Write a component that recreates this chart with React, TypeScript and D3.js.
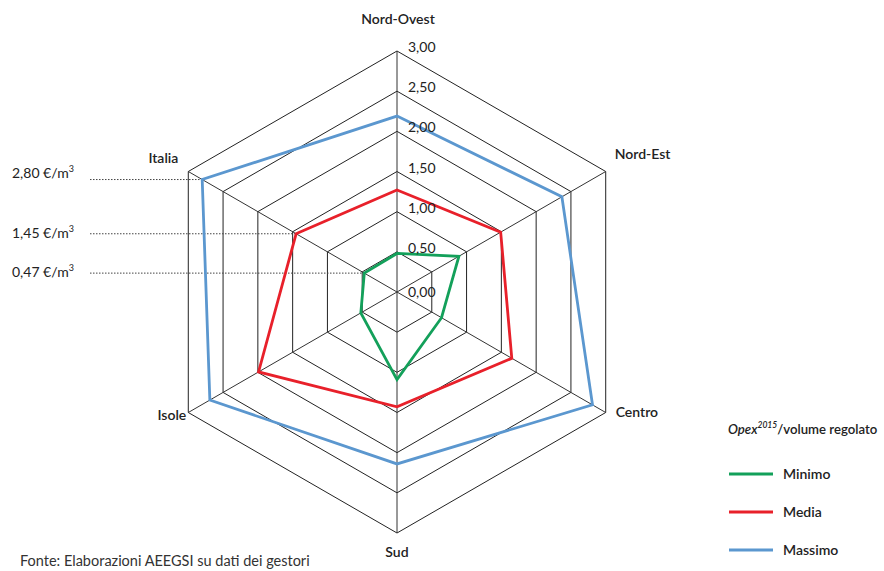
import React from "react";
import * as d3 from "d3";

const axes = ["Nord-Ovest", "Nord-Est", "Centro", "Sud", "Isole", "Italia"];
const minimo = [0.48, 0.89, 0.64, 1.09, 0.52, 0.47];
const media = [1.27, 1.49, 1.65, 1.43, 1.99, 1.45];
const massimo = [2.19, 2.37, 2.81, 2.14, 2.69, 2.8];
const ticks = [0, 0.5, 1, 1.5, 2, 2.5, 3];
const tickLabels = ["0,00", "0,50", "1,00", "1,50", "2,00", "2,50", "3,00"];
const refValues = [2.8, 1.45, 0.47];
const refLabels = ["2,80 €/m", "1,45 €/m", "0,47 €/m"];
const seriesNames = ["Minimo", "Media", "Massimo"];
const seriesColors = ["#13a05a", "#e8202a", "#5b97cf"];

const W = 884, H = 571;
const cx = 397, cy = 292, R = 241;
const FONT = "Lato, 'Open Sans', sans-serif";

export default function App() {
  const r = d3.scaleLinear().domain([0, 3]).range([0, R]);
  const n = axes.length;
  const ang = (i: number) => (i * 2 * Math.PI) / n;
  const pt = (i: number, v: number): [number, number] => [
    cx + r(v) * Math.sin(ang(i)),
    cy - r(v) * Math.cos(ang(i)),
  ];
  const radial = d3
    .lineRadial<number>()
    .angle((_d, i) => ang(i))
    .radius((d) => r(d))
    .curve(d3.curveLinearClosed);

  const series = [massimo, media, minimo];
  const seriesCol = [seriesColors[2], seriesColors[1], seriesColors[0]];

  const catPos: { anchor: "start" | "middle" | "end"; dx: number; dy: number }[] = [
    { anchor: "middle", dx: 1, dy: -27 },
    { anchor: "start", dx: 9, dy: -13 },
    { anchor: "start", dx: 10, dy: 4 },
    { anchor: "middle", dx: 0, dy: 24 },
    { anchor: "end", dx: -2, dy: 7 },
    { anchor: "end", dx: -10, dy: -9 },
  ];
  const refDy = [-2, 4, 4];

  return (
    <svg
      width={W}
      height={H}
      style={{ position: "absolute", left: 0, top: 0, background: "#fff" }}
      fontFamily={FONT}
    >
      <g transform={`translate(${cx},${cy})`}>
        {ticks.slice(1).map((t) => (
          <path
            key={t}
            d={radial(axes.map(() => t)) || ""}
            fill="none"
            stroke="#222"
            strokeWidth={1}
          />
        ))}
      </g>
      {axes.map((a, i) => {
        const [x, y] = pt(i, 3);
        return <line key={a} x1={cx} y1={cy} x2={x} y2={y} stroke="#333" strokeWidth={1} />;
      })}
      {refValues.map((v, k) => {
        const [x, y] = pt(5, v);
        return (
          <g key={k}>
            <line x1={90} y1={y} x2={x} y2={y} stroke="#444" strokeWidth={1} strokeDasharray="1.5,1.5" />
            <text x={12} y={y + refDy[k]} fontSize={14} fill="#222">
              {refLabels[k]}
              <tspan fontSize={9} dy={-6}>3</tspan>
            </text>
          </g>
        );
      })}
      <g transform={`translate(${cx},${cy})`}>
        {series.map((s, k) => (
          <path
            key={k}
            d={radial(s) || ""}
            fill="none"
            stroke={seriesCol[k]}
            strokeWidth={2.8}
            strokeLinejoin="miter"
          />
        ))}
      </g>
      {ticks.map((t, k) => (
        <text
          key={t}
          x={cx + 11}
          y={cy - r(t) + (t === 0 ? 5 : 1)}
          fontSize={14}
          fill="#222"
        >
          {tickLabels[k]}
        </text>
      ))}
      {axes.map((a, i) => {
        const [x, y] = pt(i, 3);
        const p = catPos[i];
        return (
          <text
            key={a}
            x={x + p.dx}
            y={y + p.dy}
            textAnchor={p.anchor}
            fontSize={14}
            fontWeight={600}
            fill="#222"
          >
            {a}
          </text>
        );
      })}
      <text x={728} y={434} fontSize={13.2} fontWeight={600} fill="#222">
        <tspan fontStyle="italic">Opex</tspan>
        <tspan fontStyle="italic" fontSize={8.5} dy={-6}>2015</tspan>
        <tspan dy={6}>/volume regolato</tspan>
      </text>
      {seriesNames.map((nm, k) => (
        <g key={nm} transform={`translate(0,${474 + k * 38})`}>
          <line x1={729} x2={773} y1={0} y2={0} stroke={seriesColors[k]} strokeWidth={3} />
          <text x={783} y={5} fontSize={14} fontWeight={600} fill="#222">
            {nm}
          </text>
        </g>
      ))}
      <text x={20} y={566} fontSize={14.5} fill="#333">
        Fonte: Elaborazioni AEEGSI su dati dei gestori
      </text>
    </svg>
  );
}
